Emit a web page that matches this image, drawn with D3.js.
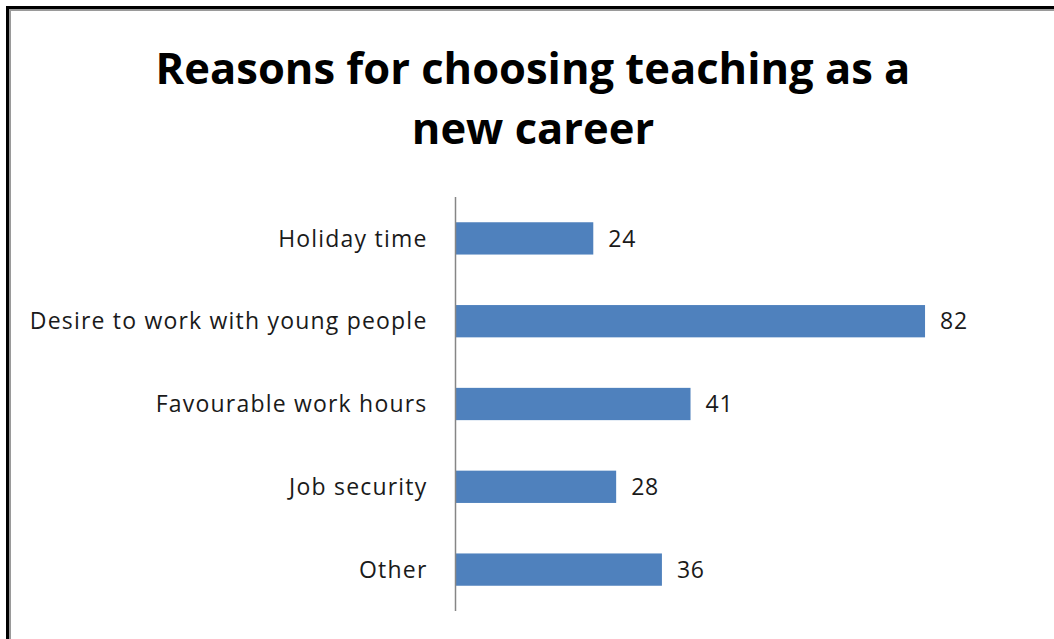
<!DOCTYPE html>
<html>
<head>
<meta charset="utf-8">
<script src="https://cdn.jsdelivr.net/npm/d3@7"></script>
<style>
  body { margin: 0; background: #fff; }
  text { font-family: "Open Sans", sans-serif; }
</style>
</head>
<body>
<div id="chart"></div>
<script>
var categories = ["Holiday time", "Desire to work with young people", "Favourable work hours", "Job security", "Other"];
var values = [24, 82, 41, 28, 36];
var titleLines = ["Reasons for choosing teaching as a", "new career"];

var dim = { width: 1054, height: 639 };
var plot = { left: 456, top: 197, bottom: 611 };

var svg = d3.select("#chart").append("svg")
    .attr("width", dim.width)
    .attr("height", dim.height);

// chart area frame (runs off right/bottom edge)
svg.append("rect")
    .attr("x", 7.5).attr("y", 7.5)
    .attr("width", 1100).attr("height", 700)
    .attr("fill", "none")
    .attr("stroke", "#000")
    .attr("stroke-width", 3);
svg.append("rect")
    .attr("x", 10).attr("y", 10)
    .attr("width", 1100).attr("height", 700)
    .attr("fill", "none")
    .attr("stroke", "#9a9a9a")
    .attr("stroke-width", 2);

var x = d3.scaleLinear()
    .domain([0, 90])
    .range([plot.left, plot.left + 90 * 5.72]);

var y = d3.scaleBand()
    .domain(categories)
    .range([plot.top, plot.bottom])
    .paddingInner(0.61)
    .paddingOuter(0.305);

var data = categories.map(function(c, i) { return { cat: c, val: values[i] }; });

svg.append("g").selectAll("rect")
    .data(data).enter()
    .append("rect")
    .attr("x", x(0))
    .attr("y", function(d) { return y(d.cat); })
    .attr("width", function(d) { return x(d.val) - x(0); })
    .attr("height", y.bandwidth())
    .attr("fill", "#4f81bd");

svg.append("g").selectAll("text")
    .data(data).enter()
    .append("text")
    .attr("x", function(d) { return x(d.val) + 15; })
    .attr("y", function(d) { return y(d.cat) + y.bandwidth() / 2; })
    .attr("dy", "0.36em")
    .attr("font-size", 23)
    .attr("letter-spacing", 0.8)
    .attr("fill", "#1a1a1a")
    .text(function(d) { return d.val; });

var yAxis = d3.axisLeft(y).tickSize(0).tickPadding(28);
var gy = svg.append("g")
    .attr("transform", "translate(" + (plot.left - 0.5) + ",0)")
    .call(yAxis);
gy.select(".domain")
    .attr("stroke", "#868686")
    .attr("stroke-width", 1.5)
    .attr("d", "M0," + plot.top + "V" + plot.bottom);
gy.selectAll(".tick text")
    .attr("font-family", "'Open Sans', sans-serif")
    .attr("font-size", 23)
    .attr("letter-spacing", 1.2)
    .attr("dy", "0.36em")
    .attr("fill", "#1a1a1a");

var title = svg.append("text")
    .attr("text-anchor", "middle")
    .attr("font-weight", "bold")
    .attr("font-size", 43.5)
    .attr("fill", "#000");
title.selectAll("tspan")
    .data(titleLines).enter()
    .append("tspan")
    .attr("x", 533)
    .attr("y", function(d, i) { return 84 + i * 60; })
    .text(function(d) { return d; });
</script>
</body>
</html>
